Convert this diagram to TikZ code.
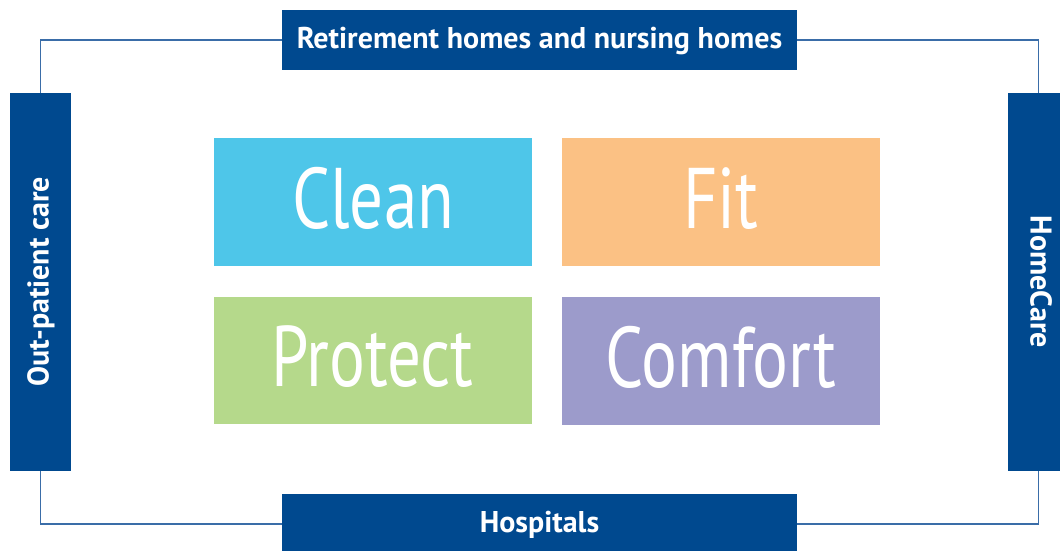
\documentclass[tikz,border=0pt]{standalone}
\usepackage{fontspec}
\setmainfont{PT Sans}
\newfontfamily\bigfont[FakeStretch=0.78]{PT Sans}
\newfontfamily\lblfont{PT Sans Bold}
\definecolor{navy}{HTML}{00498F}
\definecolor{frameline}{HTML}{3A6DA8}
\definecolor{cclean}{HTML}{4EC6E9}
\definecolor{cfit}{HTML}{FBC184}
\definecolor{cprotect}{HTML}{B5D98B}
\definecolor{ccomfort}{HTML}{9C9BCB}
\begin{document}
\begin{tikzpicture}[x=1pt,y=-1pt,
  hbar/.style={fill=navy,text=white,minimum width=515pt,minimum height=60pt,inner sep=0pt,
    font=\lblfont\fontsize{30}{32}\selectfont,text height=16pt,text depth=0pt},
  vbar/.style={hbar,minimum width=378pt,minimum height=61pt},
  tile/.style={fill=#1,text=white,minimum width=318pt,minimum height=128pt,inner sep=0pt,
    font=\bigfont\fontsize{86}{90}\selectfont,text height=52pt,text depth=0pt},
  frame/.style={draw=frameline,line width=1.6pt}]
\useasboundingbox (0,0) rectangle (1060,550);
\clip (0,0) rectangle (1060,550);
\fill[white] (0,0) rectangle (1060,550);
% outer bars
\node[hbar] (top) at (539.5,40) {Retirement homes and nursing homes};
\node[hbar] (bottom) at (539.5,524) {Hospitals};
\node[vbar,rotate=90] (left) at (40.5,282) {Out-patient care};
\node[vbar,rotate=-90] (right) at (1038.5,282) {HomeCare};
% frame connectors
\draw[frame] (left.east) |- (top.west);
\draw[frame] (top.east) -| (right.west);
\draw[frame] (right.east) |- (bottom.east);
\draw[frame] (bottom.west) -| (left.west);
% tiles
\node[tile=cclean] (clean) at (373,202) {Clean};
\node[tile=cfit] (fit) at (721,202) {Fit};
\node[tile=cprotect,minimum height=127pt] (protect) at (372.5,360.5) {Protect};
\node[tile=ccomfort] (comfort) at (721,361) {Comfort};
\end{tikzpicture}
\end{document}
